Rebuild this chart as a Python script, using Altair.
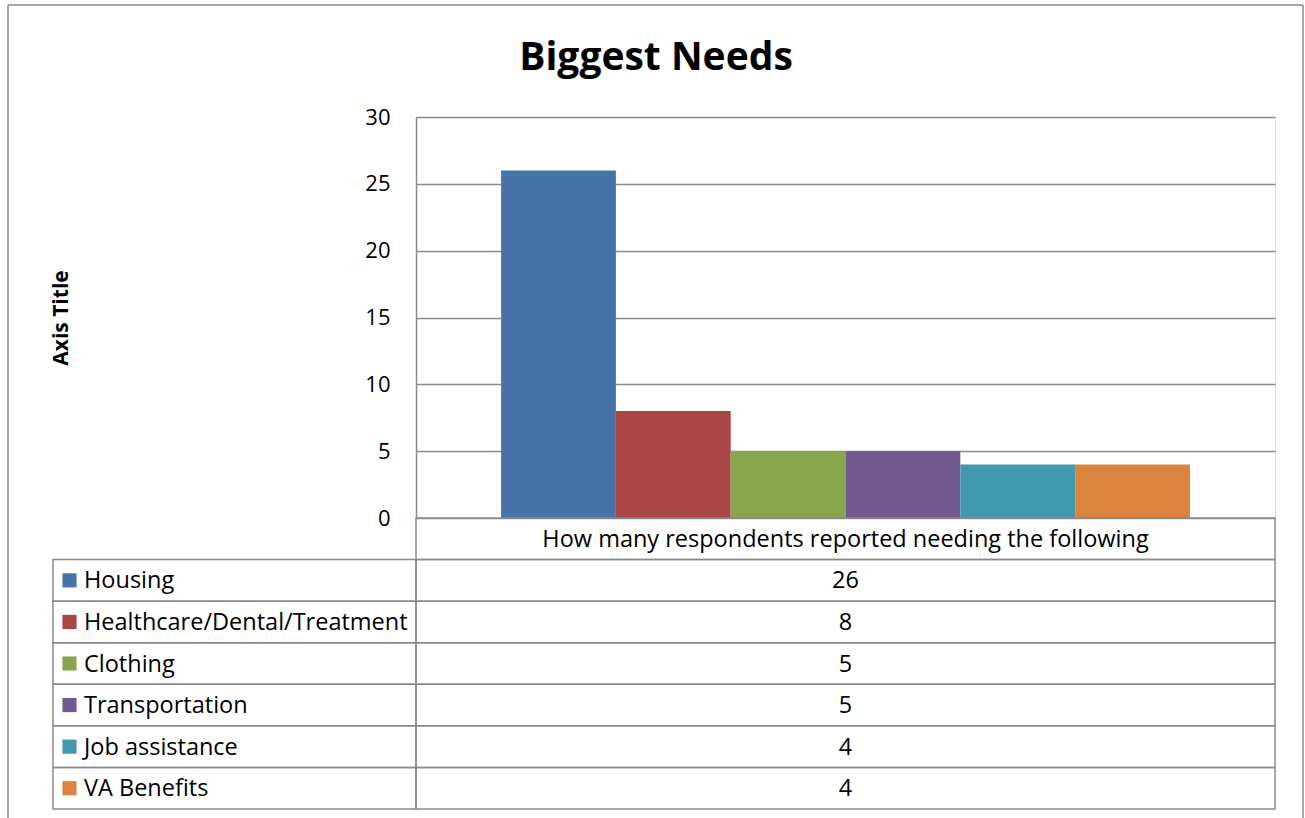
import altair as alt
import pandas as pd

# ---- data ----
categories = ["Housing", "Healthcare/Dental/Treatment", "Clothing",
              "Transportation", "Job assistance", "VA Benefits"]
values = [26, 8, 5, 5, 4, 4]
colors = ["#4674A9", "#AA4644", "#89A54E", "#71588F", "#4198AF", "#DB843D"]
header = "How many respondents reported needing the following"
y_ticks = [0, 5, 10, 15, 20, 25, 30]
chart_title = "Biggest Needs"
y_title = "Axis Title"

FONT = "Open Sans"
LINE = "#8a8a8a"
W, H = 859, 401
TXT = 23.5

df = pd.DataFrame({"category": categories, "value": values,
                   "label": [str(v) for v in values]})
rows = [header] + categories
df_rows = pd.DataFrame({"row": rows})
df_head = pd.DataFrame({"row": [header], "text": [header]})
one = pd.DataFrame({"k": [0]})
df_title = pd.DataFrame({"t": [chart_title]})

color_scale = alt.Scale(domain=categories, range=colors)
row_scale = alt.Scale(domain=rows, range=[H, 692], paddingInner=0, paddingOuter=0)

bars = alt.Chart(df).mark_bar().encode(
    x=alt.X("category:N", sort=categories,
            scale=alt.Scale(paddingInner=0, paddingOuter=0.741), axis=None),
    y=alt.Y("value:Q", scale=alt.Scale(domain=[0, 30], nice=False),
            axis=alt.Axis(values=y_ticks, grid=True, gridColor=LINE, gridWidth=1.5,
                          domain=True, domainColor=LINE, domainWidth=1.5,
                          ticks=False, labelPadding=26, labelFont=FONT,
                          labelFontSize=22, labelColor="#000",
                          title=y_title, titleFont=FONT, titleFontSize=21,
                          titleFontWeight="bold", titleColor="#000",
                          titleAngle=270, titleAlign="center",
                          titleBaseline="middle", titleX=-355, titleY=200.5)),
    color=alt.Color("category:N", scale=color_scale, legend=None),
)

# table cells
cells_left = alt.Chart(pd.DataFrame({"row": categories})).mark_rect(
    fill=None, stroke=LINE, strokeWidth=1.5).encode(
    y=alt.Y("row:N", scale=row_scale, axis=None),
    x=alt.value(-363), x2=alt.value(0))
cells_right = alt.Chart(df_rows).mark_rect(
    fill=None, stroke=LINE, strokeWidth=1.5).encode(
    y=alt.Y("row:N", scale=row_scale, axis=None),
    x=alt.value(0), x2=alt.value(W))

head_text = alt.Chart(df_head).mark_text(
    font=FONT, fontSize=TXT, color="#000", align="center", baseline="middle", dy=1).encode(
    y=alt.Y("row:N", scale=row_scale, axis=None),
    x=alt.value(W / 2), text="text:N")

value_text = alt.Chart(df).mark_text(
    font=FONT, fontSize=TXT, color="#000", align="center", baseline="middle", dy=1).encode(
    y=alt.Y("category:N", scale=row_scale, axis=None),
    x=alt.value(W / 2), text="label:N")

label_text = alt.Chart(df).mark_text(
    font=FONT, fontSize=TXT, color="#000", align="left", baseline="middle", dy=1).encode(
    y=alt.Y("category:N", scale=row_scale, axis=None),
    x=alt.value(-332), text="category:N")

swatches = alt.Chart(df).mark_point(shape="square", filled=True, size=200, opacity=1).encode(
    y=alt.Y("category:N", scale=row_scale, axis=None),
    x=alt.value(-346.5),
    color=alt.Color("category:N", scale=color_scale, legend=None))

title_text = alt.Chart(df_title).mark_text(
    font=FONT, fontSize=39, fontWeight="bold", color="#000",
    align="center", baseline="alphabetic").encode(
    x=alt.value(240), y=alt.value(-47), text="t:N")

# outer chart-area border (left, top, right)
b_left = alt.Chart(one).mark_rule(color=LINE, strokeWidth=1.5).encode(
    x=alt.value(-408), y=alt.value(-112), y2=alt.value(705))
b_top = alt.Chart(one).mark_rule(color=LINE, strokeWidth=1.5).encode(
    x=alt.value(-408), x2=alt.value(887), y=alt.value(-112))
b_right = alt.Chart(one).mark_rule(color=LINE, strokeWidth=1.5).encode(
    x=alt.value(887), y=alt.value(-112), y2=alt.value(705))

chart = alt.layer(
    bars, cells_left, cells_right, head_text, value_text, label_text, swatches,
    title_text, b_left, b_top, b_right
).resolve_scale(y="independent").properties(
    width=W, height=H, padding={"left": 7, "top": 4, "right": 0, "bottom": 0}
).configure_view(stroke=None).configure(background="white")

chart.save("out.html", embed_options={"renderer": "svg", "actions": False})
